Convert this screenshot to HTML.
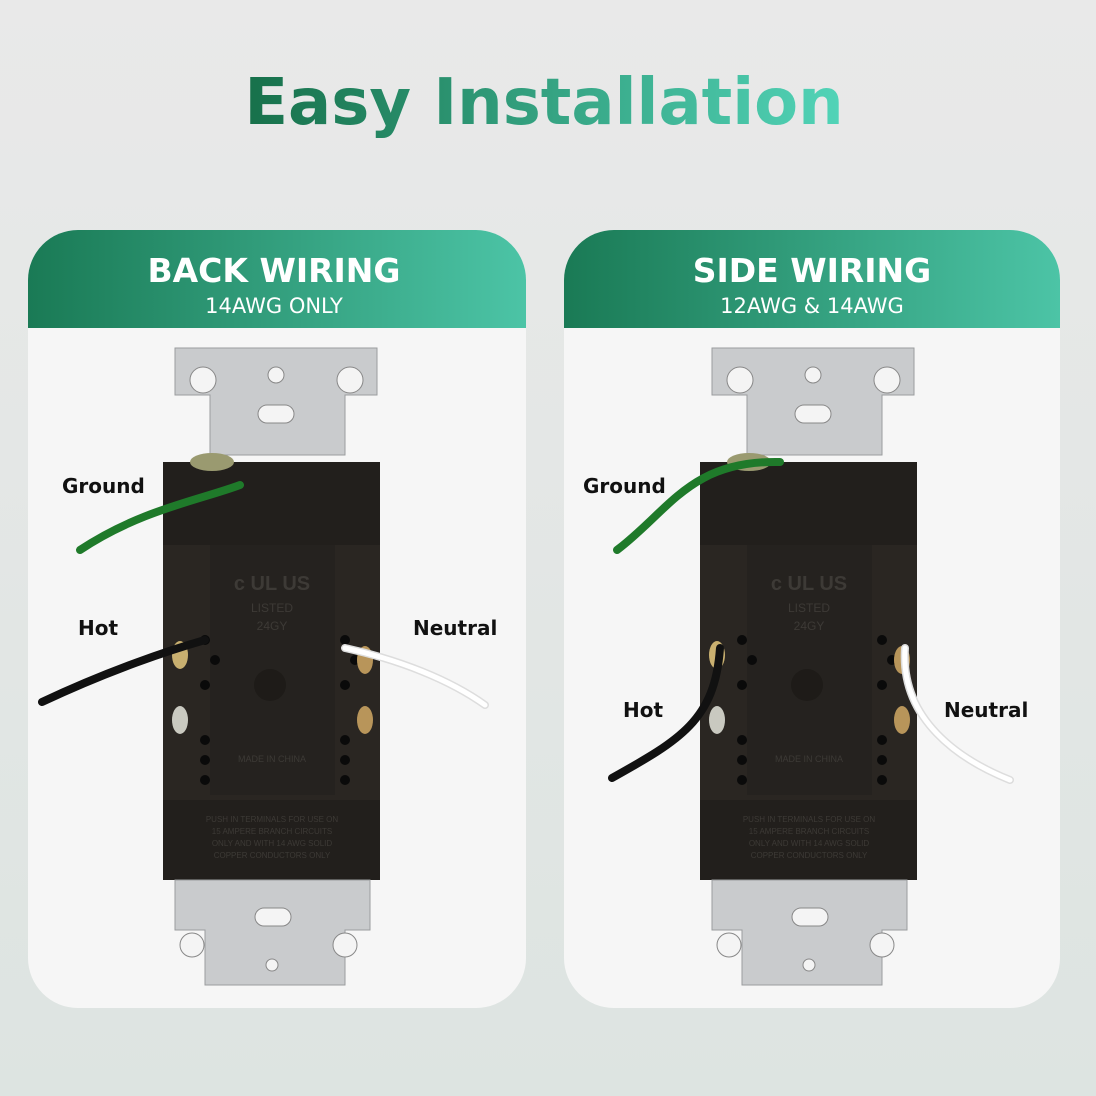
<!DOCTYPE html>
<html><head><meta charset="utf-8"><style>
html,body{margin:0;padding:0;width:1096px;height:1096px;overflow:hidden;background:linear-gradient(#e9e9e9,#dde4e1);}
</style></head><body>
<svg width="1096" height="1096" viewBox="0 0 1096 1096" xmlns="http://www.w3.org/2000/svg" font-family="Liberation Sans, sans-serif">
<defs>
<linearGradient id="tg" x1="0" x2="1"><stop offset="0" stop-color="#17704a"/><stop offset="1" stop-color="#52d4b8"/></linearGradient>
<linearGradient id="hg" x1="0" x2="1"><stop offset="0" stop-color="#1a7a55"/><stop offset="1" stop-color="#4cc4a6"/></linearGradient>
<g id="outlet">
 <path d="M175,348 H377 V395 H345 V455 H210 V395 H175 Z" fill="#c9cbcd" stroke="#9a9c9e"/>
 <circle cx="203" cy="380" r="13" fill="#f4f4f4" stroke="#888"/>
 <circle cx="350" cy="380" r="13" fill="#f4f4f4" stroke="#888"/>
 <circle cx="276" cy="375" r="8" fill="#f4f4f4" stroke="#888"/>
 <rect x="258" y="405" width="36" height="18" rx="9" fill="#f4f4f4" stroke="#888"/>
 <path d="M163,462 H380 V880 H163 Z" fill="#221f1c"/>
 <path d="M163,545 H380 V800 H163 Z" fill="#2a2622"/>
 <rect x="210" y="545" width="125" height="250" fill="#25221f"/>
 <circle cx="270" cy="685" r="16" fill="#1e1b18"/>
 <g fill="#0a0a0a"><circle cx="205" cy="640" r="5"/><circle cx="215" cy="660" r="5"/><circle cx="205" cy="685" r="5"/><circle cx="205" cy="740" r="5"/><circle cx="205" cy="760" r="5"/><circle cx="205" cy="780" r="5"/>
 <circle cx="345" cy="640" r="5"/><circle cx="355" cy="660" r="5"/><circle cx="345" cy="685" r="5"/><circle cx="345" cy="740" r="5"/><circle cx="345" cy="760" r="5"/><circle cx="345" cy="780" r="5"/></g>
 <text x="272" y="590" fill="#3d3a36" font-size="20" text-anchor="middle" font-weight="bold">c UL US</text>
 <text x="272" y="612" fill="#3d3a36" font-size="12" text-anchor="middle">LISTED</text>
 <text x="272" y="630" fill="#3d3a36" font-size="12" text-anchor="middle">24GY</text>
 <text x="272" y="762" fill="#3d3a36" font-size="9" text-anchor="middle">MADE IN CHINA</text>
 <text x="272" y="822" fill="#3d3a36" font-size="8" text-anchor="middle">PUSH IN TERMINALS FOR USE ON</text>
 <text x="272" y="834" fill="#3d3a36" font-size="8" text-anchor="middle">15 AMPERE BRANCH CIRCUITS</text>
 <text x="272" y="846" fill="#3d3a36" font-size="8" text-anchor="middle">ONLY AND WITH 14 AWG SOLID</text>
 <text x="272" y="858" fill="#3d3a36" font-size="8" text-anchor="middle">COPPER CONDUCTORS ONLY</text>
 <path d="M175,880 H370 V930 H345 V985 H205 V930 H175 Z" fill="#c9cbcd" stroke="#9a9c9e"/>
 <circle cx="192" cy="945" r="12" fill="#f4f4f4" stroke="#888"/>
 <circle cx="345" cy="945" r="12" fill="#f4f4f4" stroke="#888"/>
 <rect x="255" y="908" width="36" height="18" rx="9" fill="#f4f4f4" stroke="#888"/>
 <circle cx="272" cy="965" r="6" fill="#f4f4f4" stroke="#888"/>
 <ellipse cx="212" cy="462" rx="22" ry="9" fill="#9a9a70"/>
 <ellipse cx="180" cy="720" rx="8" ry="14" fill="#c9c9c0"/>
 <ellipse cx="365" cy="720" rx="8" ry="14" fill="#b8955a"/>
 <ellipse cx="180" cy="655" rx="8" ry="14" fill="#c9b070"/>
 <ellipse cx="365" cy="660" rx="8" ry="14" fill="#b8955a"/>
</g>
</defs>
<text x="544" y="124" font-size="64" font-weight="bold" text-anchor="middle" fill="url(#tg)" font-family="DejaVu Sans, Liberation Sans, sans-serif">Easy Installation</text>

<rect x="28" y="230" width="498" height="778" rx="50" fill="#f6f6f6"/>
<path d="M78,230 H476 A50,50 0 0 1 526,280 V328 H28 V280 A50,50 0 0 1 78,230 Z" fill="url(#hg)"/>
<text x="274" y="282" font-size="33" font-weight="bold" fill="#fff" text-anchor="middle" font-family="DejaVu Sans, sans-serif">BACK WIRING</text>
<text x="274" y="313" font-size="21" fill="#fff" text-anchor="middle" font-family="DejaVu Sans, sans-serif">14AWG ONLY</text>

<rect x="564" y="230" width="496" height="778" rx="50" fill="#f6f6f6"/>
<path d="M614,230 H1010 A50,50 0 0 1 1060,280 V328 H564 V280 A50,50 0 0 1 614,230 Z" fill="url(#hg)"/>
<text x="812" y="282" font-size="33" font-weight="bold" fill="#fff" text-anchor="middle" font-family="DejaVu Sans, sans-serif">SIDE WIRING</text>
<text x="812" y="313" font-size="21" fill="#fff" text-anchor="middle" font-family="DejaVu Sans, sans-serif">12AWG &amp; 14AWG</text>

<use href="#outlet"/>
<use href="#outlet" transform="translate(537,0)"/>

<g fill="none" stroke-linecap="round">
<path d="M80,550 C140,510 200,500 240,485" stroke="#1f7a2a" stroke-width="8"/>
<path d="M42,702 C110,670 170,650 205,640" stroke="#111" stroke-width="8"/>
<path d="M345,648 C400,660 450,680 485,705" stroke="#ddd" stroke-width="8"/>
<path d="M345,648 C400,660 450,680 485,705" stroke="#fff" stroke-width="5"/>
<path d="M617,550 C670,510 690,460 780,462" stroke="#1f7a2a" stroke-width="8"/>
<path d="M612,778 C680,740 715,720 720,648" stroke="#111" stroke-width="8"/>
<path d="M905,648 C900,720 960,760 1010,780" stroke="#ddd" stroke-width="8"/>
<path d="M905,648 C900,720 960,760 1010,780" stroke="#fff" stroke-width="5"/>
</g>

<g font-size="20" font-weight="bold" fill="#111" font-family="DejaVu Sans, sans-serif">
<text x="62" y="493">Ground</text>
<text x="78" y="635">Hot</text>
<text x="413" y="635">Neutral</text>
<text x="583" y="493">Ground</text>
<text x="623" y="717">Hot</text>
<text x="944" y="717">Neutral</text>
</g>
</svg>
</body></html>
